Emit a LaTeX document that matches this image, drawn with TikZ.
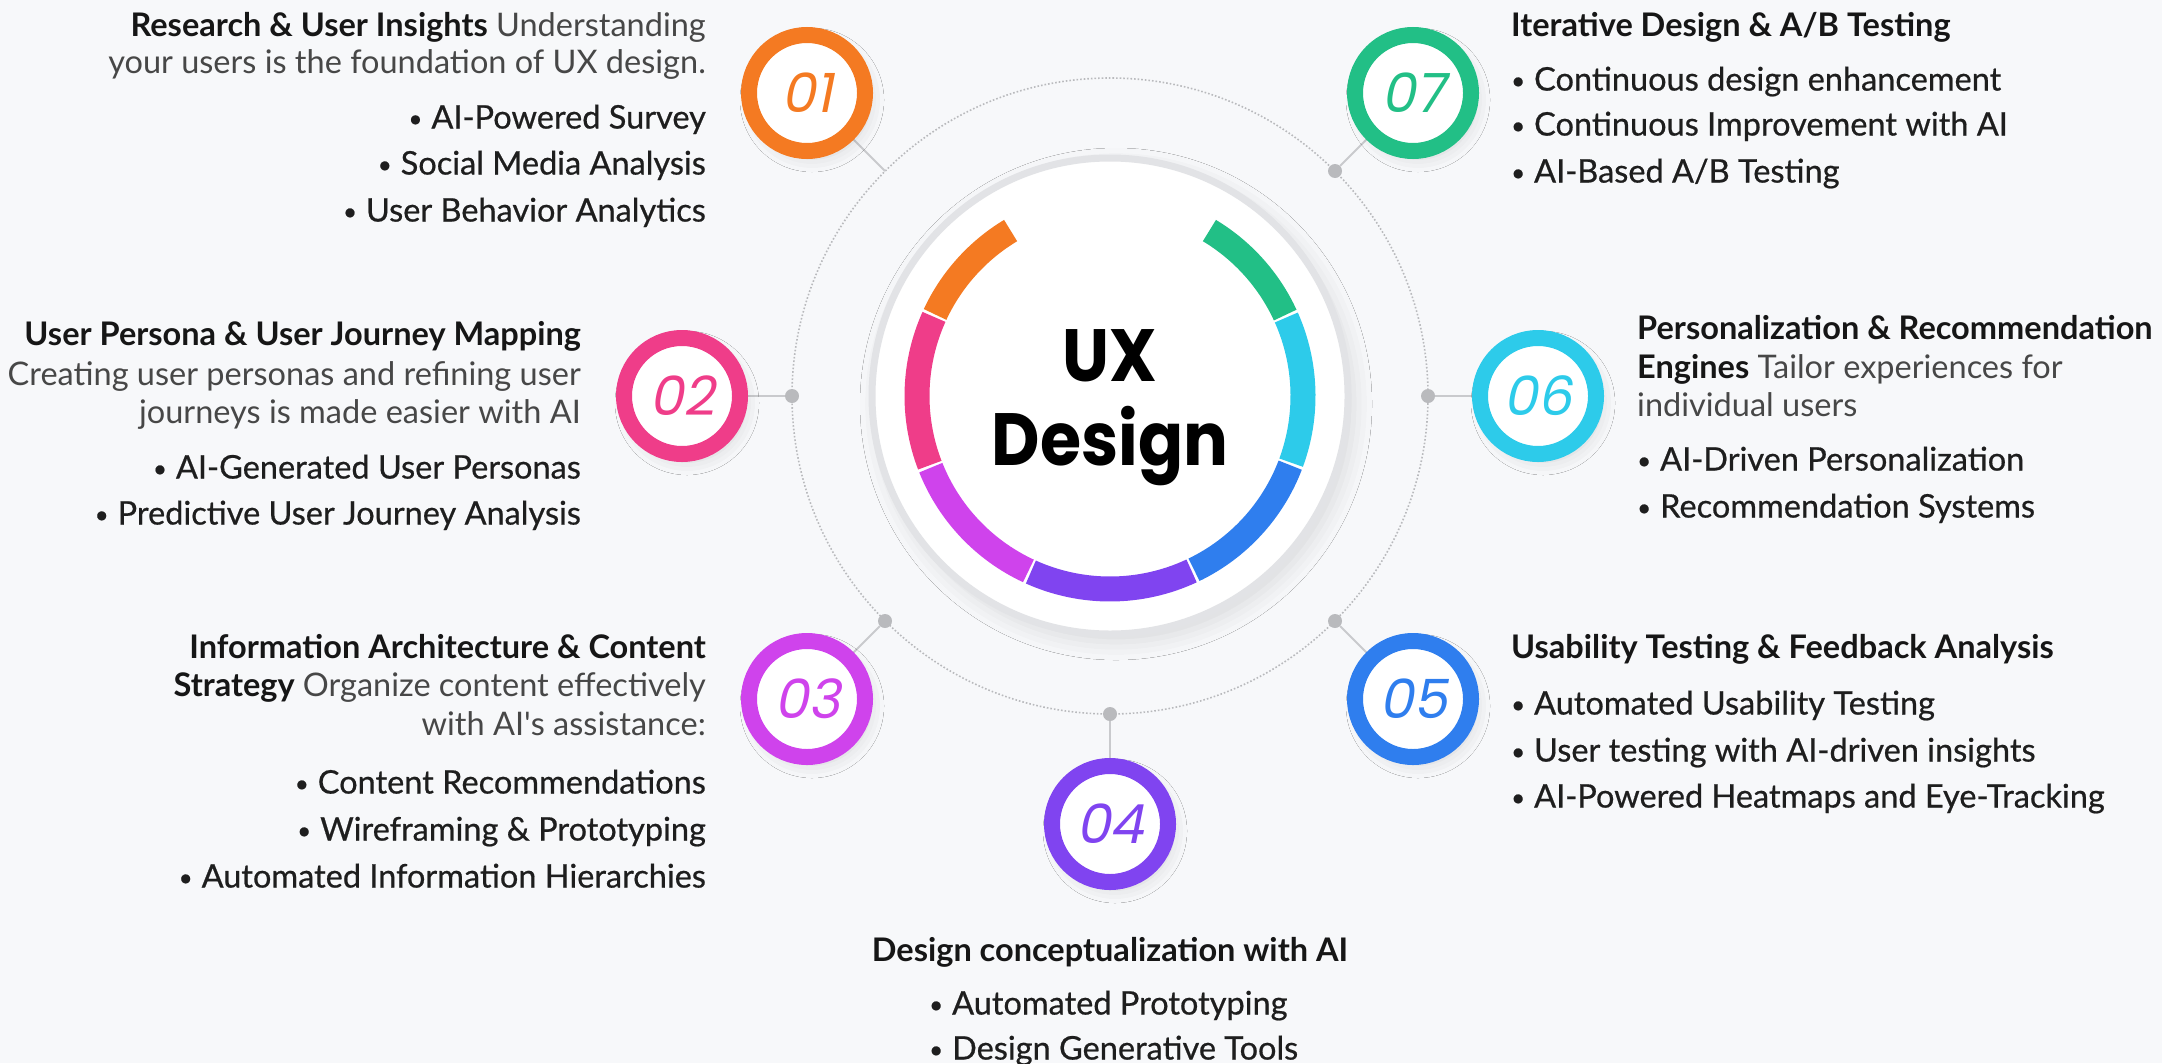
\documentclass[tikz,border=0pt]{standalone}
\usepackage{fontspec}
\setmainfont{Lato}
\newfontfamily\medfont[FakeBold=0.6]{Lato}
\newfontfamily\uxfont[FakeStretch=0.9]{Poppins}
\newfontfamily\numfont[FakeSlant=0.2]{Poppins}
\usetikzlibrary{shadows.blur}
\definecolor{bgc}{HTML}{F7F8FA}
\definecolor{c1}{HTML}{F47A22}
\definecolor{c2}{HTML}{EF3D89}
\definecolor{c3}{HTML}{CF43EC}
\definecolor{c4}{HTML}{8044F0}
\definecolor{c5}{HTML}{2F7EEE}
\definecolor{c6}{HTML}{2DCBEA}
\definecolor{c7}{HTML}{22BF86}
\definecolor{dotc}{HTML}{B9BABD}
\definecolor{linec}{HTML}{C9CACD}
\definecolor{rimc}{HTML}{E2E3E6}
\definecolor{hdc}{HTML}{161616}
\definecolor{dsc}{HTML}{474747}
\definecolor{blc}{HTML}{1E1E1E}
\newcommand{\bul}{{\fontsize{24}{24}\selectfont\raisebox{1.5pt}{•}}\hspace{9pt}}
\newcommand{\apos}{\XeTeXglyph\numexpr\XeTeXcharglyph"27\relax}
\pgfdeclarelayer{bgl}
\pgfsetlayers{bgl,main}
\begin{document}
\begin{tikzpicture}[x=1pt,y=-1pt,
  numring/.style={circle, draw=#1, line width=16pt, fill=white, minimum size=116pt, inner sep=0pt,
    text=#1, font=\numfont\fontsize{54}{54}\selectfont,
    blur shadow={shadow xshift=5pt, shadow yshift=-7pt, shadow blur radius=14pt, shadow opacity=14}},
  dotn/.style={circle, fill=dotc, minimum size=14pt, inner sep=0pt},
  conn/.style={draw=linec, line width=2pt},
  seg/.style={line width=25pt, draw=#1},
  tl/.style={inner sep=0pt, font=\fontsize{32.5}{38}\selectfont, text=dsc},
  hl/.style={inner sep=0pt, font=\fontsize{32.5}{38}\selectfont\bfseries, text=hdc},
  bl/.style={inner sep=0pt, font=\medfont\fontsize{32.5}{38}\selectfont, text=blc},
]
\useasboundingbox (0,0) rectangle (2162,1063);

% central disc
\node[circle, fill=white, draw=rimc, line width=7pt, minimum size=476pt, inner sep=0pt,
  blur shadow={shadow xshift=6pt, shadow yshift=-8pt, shadow blur radius=18pt, shadow opacity=12}] (core) at (1110,396) {};
\draw[seg=c1] ([shift={(-121:193)}]core.center) arc[start angle=-121, end angle=-155, radius=193];
\draw[seg=c2] ([shift={(-155.8:193)}]core.center) arc[start angle=-155.8, end angle=-201, radius=193];
\draw[seg=c3] ([shift={(-201.8:193)}]core.center) arc[start angle=-201.8, end angle=-245, radius=193];
\draw[seg=c4] ([shift={(-245.8:193)}]core.center) arc[start angle=-245.8, end angle=-295, radius=193];
\draw[seg=c5] ([shift={(-295.8:193)}]core.center) arc[start angle=-295.8, end angle=-339, radius=193];
\draw[seg=c6] ([shift={(-339.8:193)}]core.center) arc[start angle=-339.8, end angle=-384, radius=193];
\draw[seg=c7] ([shift={(-24.8:193)}]core.center) arc[start angle=-24.8, end angle=-59, radius=193];
\node[font=\uxfont\bfseries\fontsize{74}{84}\selectfont, align=center, inner sep=0pt] (ux) at (1110,408) {UX\\Design};

% numbered circles
\node[numring=c1] (n1) at (807,93) {01};
\node[numring=c2] (n2) at (682,396) {02};
\node[numring=c3] (n3) at (807,699) {03};
\node[numring=c4] (n4) at (1110,824) {04};
\node[numring=c5] (n5) at (1413,699) {05};
\node[numring=c6] (n6) at (1538,396) {06};
\node[numring=c7] (n7) at (1413,93) {07};

% dots on the dotted circle
\coordinate (d1) at (885,171);
\node[dotn] (d2) at (792,396) {};
\node[dotn] (d3) at (885,621) {};
\node[dotn] (d4) at (1110,714) {};
\node[dotn] (d5) at (1335,621) {};
\node[dotn] (d6) at (1428,396) {};
\node[dotn] (d7) at (1335,171) {};

\begin{pgfonlayer}{bgl}
  \fill[bgc] (0,0) rectangle (2162,1063);
  \draw[dotc, line width=1.6pt, dotted] (core.center) circle[radius=318];
  \draw[conn] (d1) -- (n1.center);
  \draw[conn] (d2) -- (n2.center);
  \draw[conn] (d3) -- (n3.center);
  \draw[conn] (d4) -- (n4.center);
  \draw[conn] (d5) -- (n5.center);
  \draw[conn] (d6) -- (n6.center);
  \draw[conn] (d7) -- (n7.center);
\end{pgfonlayer}

% block 01
\node[tl, anchor=mid east] (a1) at (706,34) {\textbf{\color{hdc}Research \& User Insights} Understanding};
\node[tl, anchor=mid east] (a2) at (706,71) {your users is the foundation of UX design.};
\node[bl, anchor=mid east] (a3) at (706,126) {\bul AI-Powered Survey};
\node[bl, anchor=mid east] (a4) at (706,172) {\bul Social Media Analysis};
\node[bl, anchor=mid east] (a5) at (706,219) {\bul User Behavior Analytics};

% block 02
\node[hl, anchor=mid east] (b1) at (581,343) {User Persona \& User Journey Mapping};
\node[tl, anchor=mid east] (b2) at (581,383) {Creating user personas and refining user};
\node[tl, anchor=mid east] (b3) at (581,421) {journeys is made easier with AI};
\node[bl, anchor=mid east] (b4) at (581,476) {\bul AI-Generated User Personas};
\node[bl, anchor=mid east] (b5) at (581,522) {\bul Predictive User Journey Analysis};

% block 03
\node[hl, anchor=mid east] (e1) at (706,656) {Information Architecture \& Content};
\node[tl, anchor=mid east] (e2) at (706,694) {\textbf{\color{hdc}Strategy} Organize content effectively};
\node[tl, anchor=mid east] (e3) at (706,733) {with AI\apos s assistance:};
\node[bl, anchor=mid east] (e4) at (706,791) {\bul Content Recommendations};
\node[bl, anchor=mid east] (e5) at (706,838) {\bul Wireframing \& Prototyping};
\node[bl, anchor=mid east] (e6) at (706,885) {\bul Automated Information Hierarchies};

% block 04
\node[hl, anchor=mid] (f1) at (1110,959) {Design conceptualization with AI};
\node[bl, anchor=mid west] (f2) at (929,1012) {\bul Automated Prototyping};
\node[bl, anchor=mid west] (f3) at (929,1057) {\bul Design Generative Tools};

% block 05
\node[hl, anchor=mid west] (g1) at (1511,656) {Usability Testing \& Feedback Analysis};
\node[bl, anchor=mid west] (g2) at (1511,712) {\bul Automated Usability Testing};
\node[bl, anchor=mid west] (g3) at (1511,759) {\bul User testing with AI-driven insights};
\node[bl, anchor=mid west] (g4) at (1511,805) {\bul AI-Powered Heatmaps and Eye-Tracking};

% block 06
\node[hl, anchor=mid west] (h1) at (1637,337) {Personalization \& Recommendation};
\node[tl, anchor=mid west] (h2) at (1637,376) {\textbf{\color{hdc}Engines} Tailor experiences for};
\node[tl, anchor=mid west] (h3) at (1637,414) {individual users};
\node[bl, anchor=mid west] (h4) at (1637,468) {\bul AI-Driven Personalization};
\node[bl, anchor=mid west] (h5) at (1637,515) {\bul Recommendation Systems};

% block 07
\node[hl, anchor=mid west] (k1) at (1511,34) {Iterative Design \& A/B Testing};
\node[bl, anchor=mid west] (k2) at (1511,88) {\bul Continuous design enhancement};
\node[bl, anchor=mid west] (k3) at (1511,133) {\bul Continuous Improvement with AI};
\node[bl, anchor=mid west] (k4) at (1511,180) {\bul AI-Based A/B Testing};
\end{tikzpicture}
\end{document}
